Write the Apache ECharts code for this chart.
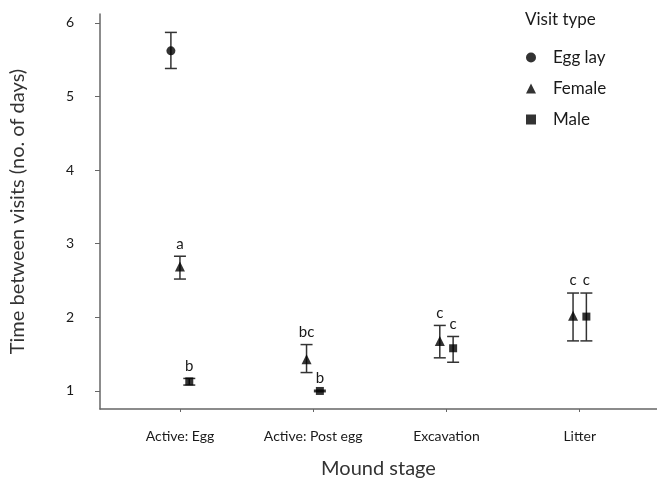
<!DOCTYPE html>
<html>
<head>
<meta charset="utf-8">
<script src="https://cdn.jsdelivr.net/npm/echarts@6/dist/echarts.min.js"></script>
<style>html,body{margin:0;padding:0;background:#fff}#c{width:657px;height:488px}</style>
</head>
<body>
<div id="c"></div>
<script>
// ---- data ----
var categories = ['Active: Egg', 'Active: Post egg', 'Excavation', 'Litter'];
var yTicks = [1, 2, 3, 4, 5, 6];
var seriesNames = ['Egg lay', 'Female', 'Male'];
var eggLayMean = [5.62, null, null, null];
var eggLayLow  = [5.38, null, null, null];
var eggLayHigh = [5.87, null, null, null];
var eggLayLetters = ['', '', '', ''];
var femaleMean = [2.69, 1.43, 1.68, 2.02];
var femaleLow  = [2.52, 1.25, 1.45, 1.68];
var femaleHigh = [2.83, 1.63, 1.89, 2.33];
var femaleLetters = ['a', 'bc', 'c', 'c'];
var maleMean = [1.13, 1.00, 1.58, 2.01];
var maleLow  = [1.08, 0.99, 1.39, 1.68];
var maleHigh = [1.17, 1.01, 1.74, 2.33];
var maleLetters = ['b', 'b', 'c', 'c'];

// ---- layout / style ----
var FONT = 'Lato, "Open Sans", sans-serif';
var INK = '#1a1a1a';
var LINE = '#333';
var CAP = 6; // half cap width px
var groups = [
  {name: seriesNames[0], mean: eggLayMean, low: eggLayLow, high: eggLayHigh, letters: eggLayLetters, symbol: 'circle', size: 9},
  {name: seriesNames[1], mean: femaleMean, low: femaleLow, high: femaleHigh, letters: femaleLetters, symbol: 'triangle', size: 10},
  {name: seriesNames[2], mean: maleMean, low: maleLow, high: maleHigh, letters: maleLetters, symbol: 'rect', size: 8}
];
// dodge offsets (axis units) depending on how many groups are present at a category
var dodge = {1: [0], 2: [-0.05, 0.05], 3: [-0.068, 0, 0.07]};

function xPos(gi, ci) {
  var present = [];
  groups.forEach(function (g, k) { if (g.mean[ci] != null) present.push(k); });
  var offs = dodge[present.length];
  return ci + 1 + offs[present.indexOf(gi)];
}

var series = [];
groups.forEach(function (g, gi) {
  var pts = [], bars = [];
  categories.forEach(function (c, ci) {
    if (g.mean[ci] == null) return;
    var x = xPos(gi, ci);
    pts.push([x, g.mean[ci]]);
    bars.push([x, g.low[ci], g.high[ci], g.letters[ci]]);
  });
  series.push({
    type: 'custom', name: g.name + ' err', z: 2,
    data: bars,
    renderItem: function (params, api) {
      var x = api.value(0);
      var lo = api.coord([x, api.value(1)]);
      var hi = api.coord([x, api.value(2)]);
      var st = {stroke: LINE, lineWidth: 1.5};
      var ch = [
        {type: 'line', shape: {x1: lo[0], y1: lo[1], x2: hi[0], y2: hi[1]}, style: st},
        {type: 'line', shape: {x1: lo[0] - CAP, y1: lo[1], x2: lo[0] + CAP, y2: lo[1]}, style: st},
        {type: 'line', shape: {x1: hi[0] - CAP, y1: hi[1], x2: hi[0] + CAP, y2: hi[1]}, style: st}
      ];
      var letter = bars[params.dataIndex][3];
      if (letter) {
        ch.push({type: 'text', style: {text: letter, x: hi[0], y: hi[1] - 5, align: 'center', verticalAlign: 'bottom',
          fill: INK, font: '15px ' + FONT}});
      }
      return {type: 'group', children: ch};
    }
  });
  series.push({
    type: 'scatter', name: g.name, z: 3,
    symbol: g.symbol, symbolSize: g.size,
    itemStyle: {color: '#000'},
    data: pts
  });
});

var chart = echarts.init(document.getElementById('c'), null, {renderer: 'canvas'});
chart.setOption({
  animation: false,
  backgroundColor: '#fff',
  grid: {left: 92, right: 0, top: 14, bottom: 79},
  title: {text: 'Visit type', left: 520, top: 6,
    textStyle: {fontFamily: FONT, fontSize: 17, fontWeight: 'normal', color: INK}},
  legend: {
    orient: 'vertical', left: 521, top: 44, itemGap: 14, itemWidth: 10, itemHeight: 10,
    data: [{name: 'Egg lay', icon: 'circle'}, {name: 'Female', icon: 'triangle'}, {name: 'Male', icon: 'rect'}],
    textStyle: {fontFamily: FONT, fontSize: 17, color: INK, padding: [0, 0, 0, 12]},
    itemStyle: {color: '#000'}
  },
  xAxis: {
    type: 'value', min: 0.4, max: 4.58,
    name: 'Mound stage', nameLocation: 'middle', nameGap: 50,
    nameTextStyle: {fontFamily: FONT, fontSize: 20, color: '#333'},
    axisLine: {show: true, lineStyle: {color: '#666', width: 1.5}},
    axisTick: {show: true, customValues: [1, 2, 3, 4], length: 3, lineStyle: {color: '#666'}},
    axisLabel: {customValues: [1, 2, 3, 4], margin: 20, fontFamily: FONT, fontSize: 14, color: INK,
      formatter: function (v) { return categories[Math.round(v) - 1]; }},
    splitLine: {show: false}
  },
  yAxis: {
    type: 'value', min: 0.755, max: 6.12,
    name: 'Time between visits (no. of days)', nameLocation: 'middle', nameGap: 72, nameRotate: 90,
    nameTextStyle: {fontFamily: FONT, fontSize: 20, color: '#333'},
    axisLine: {show: true, lineStyle: {color: '#666', width: 1.5}},
    axisTick: {show: true, customValues: yTicks, length: 5, lineStyle: {color: '#666'}},
    axisLabel: {customValues: yTicks, margin: 26, fontFamily: FONT, fontSize: 14, color: INK},
    splitLine: {show: false}
  },
  series: series
});
</script>
</body>
</html>
